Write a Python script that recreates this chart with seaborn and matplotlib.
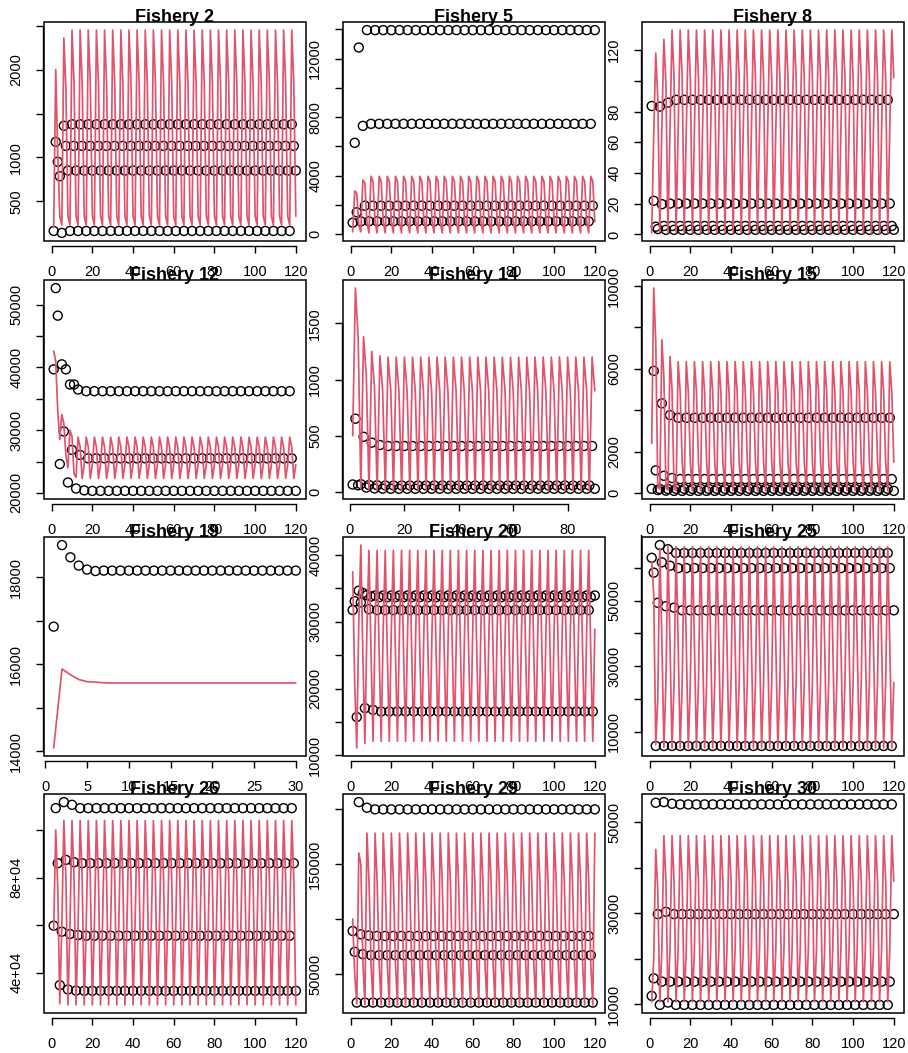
import numpy as np
import pandas as pd
import matplotlib
matplotlib.use("Agg")
import matplotlib.pyplot as plt
from matplotlib.patches import Rectangle
from matplotlib.ticker import FixedLocator, FixedFormatter
import seaborn as sns

sns.set_theme(style="white")
plt.rcParams["font.family"] = ["Liberation Sans", "DejaVu Sans"]

RED = "#DF536B"

# ---------------------------------------------------------------------------
# Observed (circles) and predicted (red line) values per fishery.
# Each series = the early values as read, then the settled seasonal values
# that repeat for the rest of the run.
# ---------------------------------------------------------------------------
f2_obs_start = [162, 1177, 950, 785, 140, 1360, 1131, 850]
f2_obs_season = [162, 1377, 1131, 850]
f2_pred_start = [200, 2000, 1030, 330, 230, 2360, 1790, 330]
f2_pred_season = [230, 2450, 1850, 330]

f5_obs_start = [780, 6240, 1490, 12760, 870, 7400, 1940, 13950]
f5_obs_season = [870, 7540, 1940, 13950]
f5_pred_start = [150, 2950, 2800, 600, 150, 3700, 3500, 800]
f5_pred_season = [80, 3950, 3600, 850]

f8_obs_start = [83.6, 21.9, 5.0, 3.5, 83.2, 19.7, 5.5, 3.0, 85.8]
f8_obs_season = [87.6, 20.1, 5.5, 3.0]
f8_pred_start = [1, 65, 118, 88, 2, 70, 127, 98]
f8_pred_season = [1, 68, 133, 102]

f12_obs_start = [39690, 52640, 48250, 24600, 40490, 29790, 39690, 21660,
                 37280, 26850, 37280, 20700, 36480, 26050, np.nan, 20400]
f12_obs_season = [36210, 25510, np.nan, 20320]
f12_pred_start = [42600, 41000, 33000, 28500, 32500, 31000, 26000, 24000,
                  30000, 29000, 23000, 22500]
f12_pred_season = [28900, 27300, 22300, 24500]

f14_obs_start = [67, 652, 60, 70, 491, 40, 62, 439, 32, 60, 418, 30]
f14_obs_season = [58, 409, 29]
f14_pred_start = [500, 1813, 1380, 30, 1380, 1040, 20, 1250, 940, 15, 1210, 910]
f14_pred_season = [10, 1200, 900]

f15_obs_start = [210, 5905, 1100, 150, 200, 4336, 840, 120, 200, 3770, 730, 110]
f15_obs_season = [210, 3640, 680, 110]
f15_pred_start = [2400, 9900, 7300, 300, 200, 7400, 5600, 250, 150, 6600, 5000, 200]
f15_pred_season = [120, 6350, 4900, 1500]

f19_obs_start = [16864, 18735, 18455, 18265, 18174, 18140]
f19_obs_season = [18150]
f19_pred_start = [14080, 15890, 15760, 15650, 15600, 15590, 15575]
f19_pred_season = [15570]

f20_obs_start = [31760, 33090, 15720, 34670, 32900, 34320, 17060, 34000,
                 31900, 33800, 16800, 33950]
f20_obs_season = [31760, 33700, 16560, 33950]
f20_pred_start = [37500, 20500, 11100, 30000, 41500, 25000, 11800, 29000]
f20_pred_season = [40700, 25500, 12100, 28900]

f25_obs_start = [63130, 58600, 5590, 49375, 67015, 61765, 5590, 48325,
                 65755, 60715, 5590, 47900]
f25_obs_season = [64600, 59980, 5590, 47070]
f25_pred_start = [62000, 52000, 6000, 20000, 66000, 38000, 5200, 25000]
f25_pred_season = [66500, 37000, 5000, 25000]

f26_obs_start = [59800, 109200, 86050, 34800, 57270, 111740, 87450, 32980,
                 56290, 110600, 86470, 32500, 55870]
f26_obs_season = [55580, 109200, 86050, 32420]
f26_pred_start = [58000, 100000, 76000, 27000]
f26_pred_season = [60000, 104000, 80000, 26500]

f29_obs_start = [89130, 70170, 24110, 206200, 86100, 68060, 24110, 201100,
                 85000, 67160]
f29_obs_season = [84600, 67160, 24110, 199600]
f29_pred_start = [100000, 50000, 23000, 160000, 150000, 62000, 22000, 178000]
f29_pred_season = [135000, 60000, 22000, 178000]

f30_obs_start = [11825, 15690, 54240, 29780, 9850, 14960, 54380, 30290,
                 10365, 14960, 54020]
f30_obs_season = [9850, 14960, 53870, 29780]
f30_pred_start = [10500, 20000, 44000, 35000]
f30_pred_season = [10500, 22000, 47000, 37000]

titles = ["Fishery 2", "Fishery 5", "Fishery 8", "Fishery 12",
          "Fishery 14", "Fishery 15", "Fishery 19", "Fishery 20",
          "Fishery 25", "Fishery 26", "Fishery 29", "Fishery 30"]
n_steps = [120, 120, 120, 120, 90, 120, 30, 120, 120, 120, 120, 120]

# y-axis ticks and their labels (blank = tick without a label)
f2_yticks, f2_ylabels = [500, 1000, 1500, 2000, 2500], ["500", "1000", "", "2000", ""]
f5_yticks = [0, 2000, 4000, 6000, 8000, 10000, 12000, 14000]
f5_ylabels = ["0", "", "4000", "", "8000", "", "12000", ""]
f8_yticks, f8_ylabels = [0, 20, 40, 60, 80, 100, 120], ["0", "20", "40", "60", "80", "", "120"]
f12_yticks = [20000, 25000, 30000, 35000, 40000, 45000, 50000]
f12_ylabels = ["20000", "", "30000", "", "40000", "", "50000"]
f14_yticks, f14_ylabels = [0, 500, 1000, 1500], ["0", "500", "1000", "1500"]
f15_yticks = [0, 2000, 4000, 6000, 8000, 10000]
f15_ylabels = ["0", "2000", "", "6000", "", "10000"]
f19_yticks = [14000, 15000, 16000, 17000, 18000]
f19_ylabels = ["14000", "", "16000", "", "18000"]
f20_yticks = [10000, 15000, 20000, 25000, 30000, 35000, 40000]
f20_ylabels = ["10000", "", "20000", "", "30000", "", "40000"]
f25_yticks = [10000, 20000, 30000, 40000, 50000, 60000, 70000]
f25_ylabels = ["10000", "", "30000", "", "50000", "", "70000"]
f26_yticks, f26_ylabels = [40000, 60000, 80000, 100000], ["4e+04", "", "8e+04", ""]
f29_yticks, f29_ylabels = [50000, 100000, 150000, 200000], ["50000", "", "150000", ""]
f30_yticks = [10000, 20000, 30000, 40000, 50000]
f30_ylabels = ["10000", "", "30000", "", "50000"]

x_ticks_120 = [0, 20, 40, 60, 80, 100, 120]
x_ticks_90 = [0, 20, 40, 60, 80]
x_ticks_30 = [0, 5, 10, 15, 20, 25, 30]

panels = [
    (f2_obs_start, f2_obs_season, f2_pred_start, f2_pred_season, f2_yticks, f2_ylabels, x_ticks_120),
    (f5_obs_start, f5_obs_season, f5_pred_start, f5_pred_season, f5_yticks, f5_ylabels, x_ticks_120),
    (f8_obs_start, f8_obs_season, f8_pred_start, f8_pred_season, f8_yticks, f8_ylabels, x_ticks_120),
    (f12_obs_start, f12_obs_season, f12_pred_start, f12_pred_season, f12_yticks, f12_ylabels, x_ticks_120),
    (f14_obs_start, f14_obs_season, f14_pred_start, f14_pred_season, f14_yticks, f14_ylabels, x_ticks_90),
    (f15_obs_start, f15_obs_season, f15_pred_start, f15_pred_season, f15_yticks, f15_ylabels, x_ticks_120),
    (f19_obs_start, f19_obs_season, f19_pred_start, f19_pred_season, f19_yticks, f19_ylabels, x_ticks_30),
    (f20_obs_start, f20_obs_season, f20_pred_start, f20_pred_season, f20_yticks, f20_ylabels, x_ticks_120),
    (f25_obs_start, f25_obs_season, f25_pred_start, f25_pred_season, f25_yticks, f25_ylabels, x_ticks_120),
    (f26_obs_start, f26_obs_season, f26_pred_start, f26_pred_season, f26_yticks, f26_ylabels, x_ticks_120),
    (f29_obs_start, f29_obs_season, f29_pred_start, f29_pred_season, f29_yticks, f29_ylabels, x_ticks_120),
    (f30_obs_start, f30_obs_season, f30_pred_start, f30_pred_season, f30_yticks, f30_ylabels, x_ticks_120),
]


def build_series(start, season, n):
    """Early values followed by the repeating seasonal values (season of step i is i % p)."""
    p = len(season)
    vals = list(start[:n])
    for i in range(len(vals), n):
        vals.append(season[i % p])
    return np.array(vals, dtype=float)


W_PX, H_PX = 908, 1053
fig = plt.figure(figsize=(W_PX / 100, H_PX / 100), dpi=100)
fig.patch.set_facecolor("white")

col_left = [44, 343, 642]
row_top = [22, 280, 537, 794]
AX_W, AX_H = 261.5, 219

for k, (title, n, spec) in enumerate(zip(titles, n_steps, panels)):
    obs_start, obs_season, pred_start, pred_season, yticks, ylabels, xticks = spec
    r, c = divmod(k, 3)
    ax = fig.add_axes([col_left[c] / W_PX, 1 - (row_top[r] + AX_H) / H_PX,
                       AX_W / W_PX, AX_H / H_PX])
    ax.set_facecolor("white")

    x = np.arange(1, n + 1)
    obs = build_series(obs_start, obs_season, n)
    pred = build_series(pred_start, pred_season, n)
    df = pd.DataFrame({"step": x, "obs": obs, "pred": pred})

    sns.scatterplot(data=df, x="step", y="obs", ax=ax, marker="o", s=42,
                    facecolors="none", edgecolors="black", linewidth=1.0,
                    zorder=2, legend=False)
    sns.lineplot(data=df, x="step", y="pred", ax=ax, color=RED, linewidth=1.25,
                 estimator=None, sort=False, zorder=3, legend=False)

    # R-style axis ranges: 4% extension on both sides
    lo = np.nanmin(np.concatenate([obs, pred]))
    hi = np.nanmax(np.concatenate([obs, pred]))
    ax.set_ylim(lo - 0.04 * (hi - lo), hi + 0.04 * (hi - lo))
    ax.set_xlim(1 - 0.04 * (n - 1), n + 0.04 * (n - 1))

    ax.xaxis.set_major_locator(FixedLocator(xticks))
    ax.xaxis.set_major_formatter(FixedFormatter([str(t) for t in xticks]))
    ax.yaxis.set_major_locator(FixedLocator(yticks))
    ax.yaxis.set_major_formatter(FixedFormatter(ylabels))
    ax.set_xlabel("")
    ax.set_ylabel("")
    ax.grid(False)

    for side in ("top", "right"):
        ax.spines[side].set_visible(False)
    ax.spines["bottom"].set_position(("outward", 3.6))
    ax.spines["bottom"].set_bounds(xticks[0], xticks[-1])
    ax.spines["left"].set_position(("outward", 1.0))
    ax.spines["left"].set_bounds(yticks[0], yticks[-1])
    for side in ("bottom", "left"):
        ax.spines[side].set_color("black")
        ax.spines[side].set_linewidth(1.0)

    ax.add_patch(Rectangle((0, 0), 1, 1, transform=ax.transAxes, fill=False,
                           edgecolor="black", linewidth=1.1, clip_on=False, zorder=5))

    ax.tick_params(axis="both", which="major", direction="out", length=5,
                   width=1.0, color="black", labelsize=10.5, labelcolor="black",
                   pad=9, bottom=True, left=True)
    ax.tick_params(axis="y", labelrotation=90)
    for lab in ax.get_yticklabels():
        lab.set_va("center")

    ax.text(0.5, 1.0, title, transform=ax.transAxes, ha="center",
            va="baseline", fontsize=13, fontweight="bold", color="black",
            zorder=6)

fig.savefig("out.png", dpi=100, facecolor="white")
